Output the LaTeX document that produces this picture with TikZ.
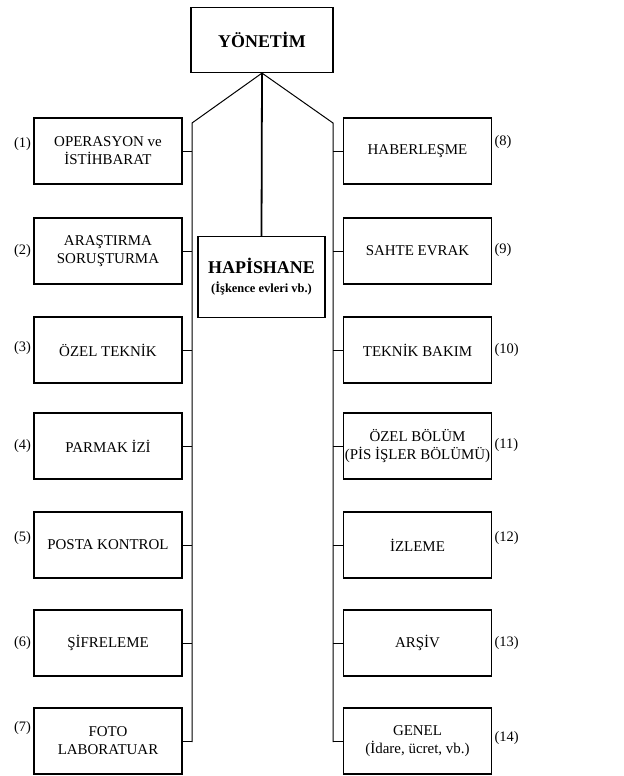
\documentclass[tikz,border=0pt]{standalone}
\usepackage{fontspec}
\setmainfont{Liberation Serif}

\begin{document}
\begin{tikzpicture}[x=1bp, y=-1bp, line width=1pt]

\tikzset{
  birim/.style={draw, line width=1.2pt, minimum width=148bp, minimum height=66bp,
    align=center, inner sep=2pt, font=\fontsize{15}{18}\selectfont},
  numara/.style={inner sep=2pt, font=\fontsize{14.5}{16}\selectfont}
}

\useasboundingbox (0,0) rectangle (624,776);

\node[draw, line width=1.2pt, minimum width=142bp, minimum height=65bp,
  font=\bfseries\fontsize{18}{20}\selectfont] (yon) at (262,40) {YÖNETİM};

\node[draw, line width=1.2pt, minimum width=127bp, minimum height=81bp, align=center,
  font=\bfseries\fontsize{18}{19}\selectfont]
  (hap) at (261.5,277)
  {HAPİSHANE\\{\fontsize{12.5}{14}\selectfont (İşkence evleri vb.)}};

% ana hatlar
\coordinate (ltop) at (192,123);
\coordinate (lbot) at (192,742);
\coordinate (rtop) at (333,123);
\coordinate (rbot) at (333,742);
\draw (yon.south) -- (ltop) -- (lbot);
\draw (yon.south) -- (rtop) -- (rbot);
\draw[line width=1.8pt] (yon.south) -- (hap.north);

% sol birimler
\node[birim] (b1) at (108,151) {OPERASYON ve\\İSTİHBARAT};
\node[numara, anchor=east, yshift=7bp] at (b1.west) {(1)};
\draw (b1.east) -- (b1.east -| ltop);

\node[birim] (b2) at (108,251) {ARAŞTIRMA\\SORUŞTURMA};
\node[numara, anchor=east] at (b2.west) {(2)};
\draw (b2.east) -- (b2.east -| ltop);

\node[birim] (b3) at (108,350) {ÖZEL TEKNİK};
\node[numara, anchor=east, yshift=2bp] at (b3.west) {(3)};
\draw (b3.east) -- (b3.east -| ltop);

\node[birim] (b4) at (108,446) {PARMAK İZİ};
\node[numara, anchor=east] at (b4.west) {(4)};
\draw (b4.east) -- (b4.east -| ltop);

\node[birim] (b5) at (108,545) {POSTA KONTROL};
\node[numara, anchor=east, yshift=7bp] at (b5.west) {(5)};
\draw (b5.east) -- (b5.east -| ltop);

\node[birim] (b6) at (108,643) {ŞİFRELEME};
\node[numara, anchor=east] at (b6.west) {(6)};
\draw (b6.east) -- (b6.east -| ltop);

\node[birim] (b7) at (108,741) {FOTO\\LABORATUAR};
\node[numara, anchor=east, yshift=13bp] at (b7.west) {(7)};
\draw (b7.east) -- (b7.east -| lbot);

% sag birimler
\node[birim] (b8) at (417.5,151) {HABERLEŞME};
\node[numara, anchor=west, yshift=9bp] at (b8.east) {(8)};
\draw (b8.west) -- (b8.west -| rtop);

\node[birim] (b9) at (417.5,251) {SAHTE EVRAK};
\node[numara, anchor=west, yshift=1bp] at (b9.east) {(9)};
\draw (b9.west) -- (b9.west -| rtop);

\node[birim] (b10) at (417.5,350) {TEKNİK BAKIM};
\node[numara, anchor=west] at (b10.east) {(10)};
\draw (b10.west) -- (b10.west -| rtop);

\node[birim, inner xsep=0.5pt] (b11) at (417.5,446) {ÖZEL BÖLÜM\\(PİS İŞLER BÖLÜMÜ)};
\node[numara, anchor=west, yshift=1bp] at (b11.east) {(11)};
\draw (b11.west) -- (b11.west -| rtop);

\node[birim] (b12) at (417.5,545) {İZLEME};
\node[numara, anchor=west, yshift=7bp] at (b12.east) {(12)};
\draw (b12.west) -- (b12.west -| rtop);

\node[birim] (b13) at (417.5,643) {ARŞİV};
\node[numara, anchor=west] at (b13.east) {(13)};
\draw (b13.west) -- (b13.west -| rtop);

\node[birim] (b14) at (417.5,741) {GENEL\\(İdare, ücret, vb.)};
\node[numara, anchor=west, yshift=3bp] at (b14.east) {(14)};
\draw (b14.west) -- (b14.west -| rbot);

\end{tikzpicture}
\end{document}
